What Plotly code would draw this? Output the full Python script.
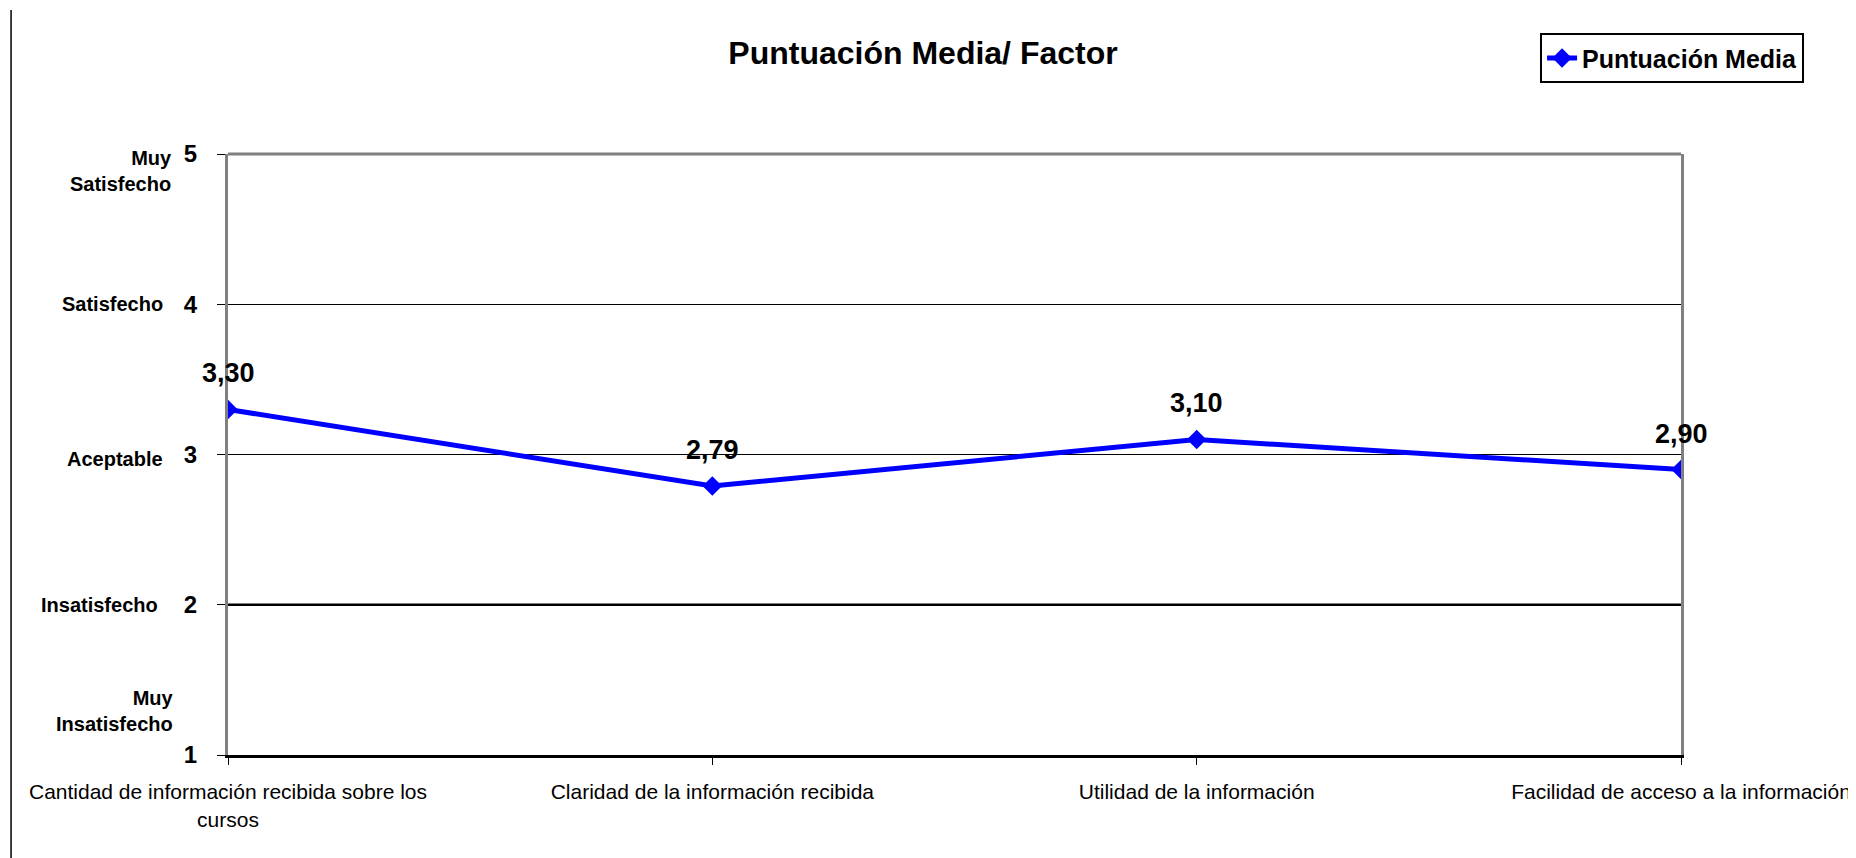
import plotly.graph_objects as go

# ---- data ----
categories = [
    "Cantidad de información recibida sobre los<br>cursos",
    "Claridad de la información recibida",
    "Utilidad de la información",
    "Facilidad de acceso a la información",
]
scores = [3.30, 2.79, 3.10, 2.90]
series_name = "Puntuación Media"
title_text = "Puntuación Media/ Factor"
y_tick_values = [1, 2, 3, 4, 5]
y_tick_text = ["1", "2", "3", "4", "5"]
level_labels = ["Muy<br>Insatisfecho", "Insatisfecho", "Aceptable", "Satisfecho", "Muy<br>Satisfecho"]

FONT = "Liberation Sans, Arial, sans-serif"
BLUE = "#0000FF"

fig = go.Figure()
fig.add_trace(go.Scatter(
    x=categories, y=scores, mode="lines+markers", name=series_name,
    line=dict(color=BLUE, width=5),
    marker=dict(symbol="diamond", size=15, color=BLUE),
))

# data labels
for c, v in zip(categories, scores):
    fig.add_annotation(
        x=c, y=v, xref="x", yref="y", text="<b>" + f"{v:.2f}".replace(".", ",") + "</b>",
        showarrow=False, yshift=36, font=dict(family=FONT, size=27, color="black"),
    )

# level labels next to the numeric ticks
level_cfg = {
    "Muy<br>Satisfecho": dict(y=5, yanchor="top", yshift=9, xshift=-54),
    "Satisfecho": dict(y=4, yanchor="middle", yshift=0, xshift=-63),
    "Aceptable": dict(y=3, yanchor="middle", yshift=-4, xshift=-63),
    "Insatisfecho": dict(y=2, yanchor="middle", yshift=0, xshift=-68),
    "Muy<br>Insatisfecho": dict(y=1, yanchor="bottom", yshift=18, xshift=-52),
}
for lab in level_labels:
    cfg = level_cfg[lab]
    fig.add_annotation(
        x=0, xref="paper", y=cfg["y"], yref="y", text="<b>" + lab + "</b>",
        showarrow=False, xanchor="right", yanchor=cfg["yanchor"], align="right",
        xshift=cfg["xshift"], yshift=cfg["yshift"],
        font=dict(family=FONT, size=20, color="black"),
    )

# thicker gridline at 2, gray top border, left outer border line
fig.add_shape(type="line", xref="paper", yref="y", x0=0, x1=1, y0=2, y1=2,
              line=dict(color="black", width=2.5), layer="below")
fig.add_shape(type="line", xref="paper", yref="paper", x0=0, x1=1, y0=1, y1=1,
              line=dict(color="#808080", width=3))
fig.add_shape(type="line", xref="paper", yref="paper", x0=-0.1493, x1=-0.1493, y0=-0.2, y1=1.2396,
              line=dict(color="black", width=1.5))

fig.update_layout(
    width=1856, height=858,
    margin=dict(l=220, r=183, t=146, b=111),
    paper_bgcolor="white", plot_bgcolor="white",
    font=dict(family=FONT, color="black"),
    title=dict(text="<b>" + title_text + "</b>", x=915 / 1856, xref="container", xanchor="center",
               y=1 - 45 / 858, yref="container", yanchor="middle",
               font=dict(family=FONT, size=32, color="black")),
    showlegend=True,
    legend=dict(x=0.903, y=1.201, xanchor="left", yanchor="top",
                bordercolor="black", borderwidth=2, bgcolor="white",
                font=dict(family=FONT, size=25, color="black", weight="bold")),
    xaxis=dict(
        type="category", range=[0, 3], showgrid=False, zeroline=False,
        showline=True, linecolor="black", linewidth=3, mirror=False,
        ticks="outside", ticklen=7, tickcolor="black", tickwidth=1,
        tickfont=dict(family=FONT, size=21, color="black"), ticklabelstandoff=9,
        fixedrange=True,
    ),
    yaxis=dict(
        range=[1, 5], tickvals=y_tick_values, ticktext=y_tick_text,
        showgrid=True, gridcolor="black", gridwidth=1, zeroline=False,
        showline=True, linecolor="#808080", linewidth=3, mirror=True,
        ticks="outside", ticklen=8, tickcolor="black", tickwidth=1,
        tickfont=dict(family=FONT, size=24, color="black", weight="bold"),
        ticklabelstandoff=15, fixedrange=True,
    ),
)

fig.write_html("out.html")
